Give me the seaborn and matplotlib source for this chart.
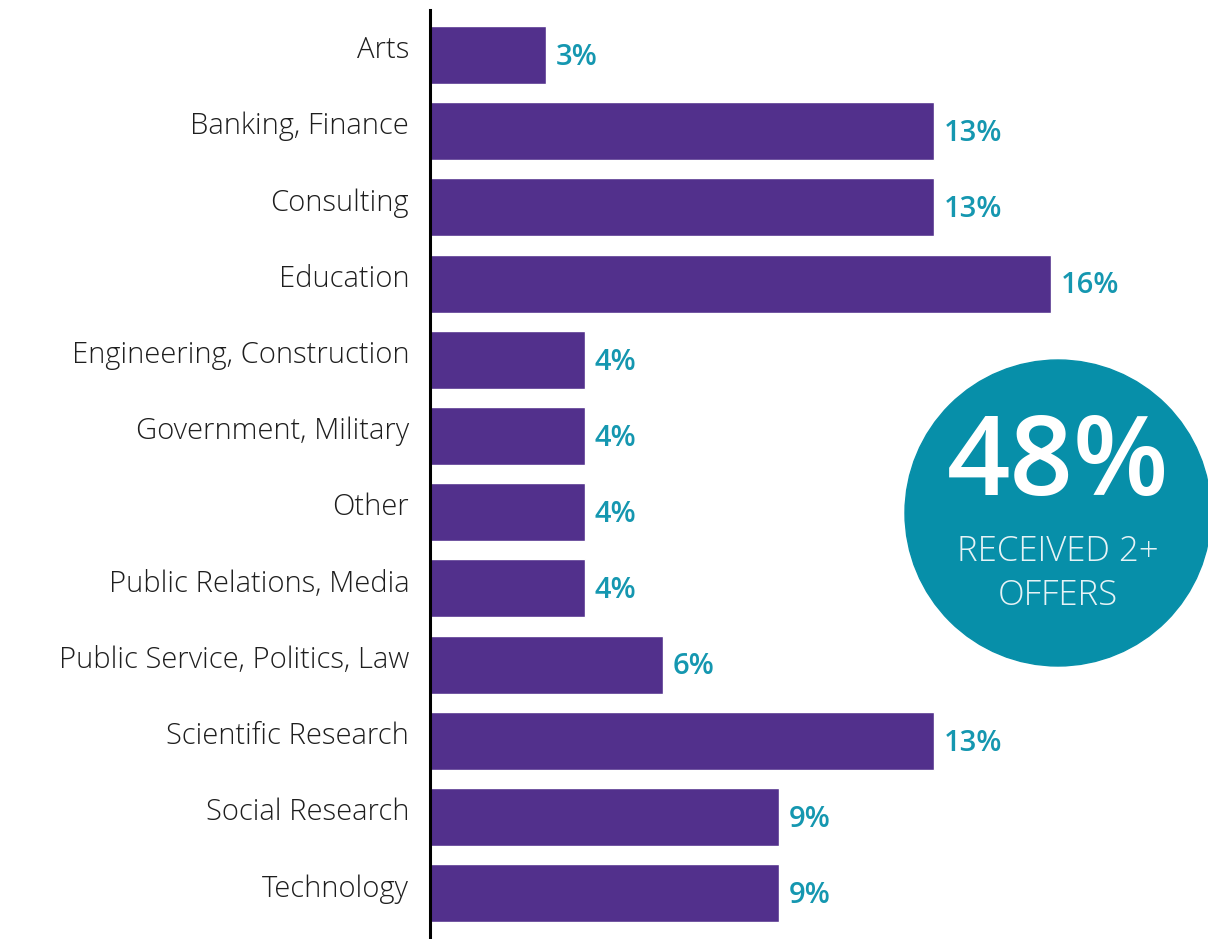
import matplotlib
matplotlib.use("Agg")
import matplotlib.pyplot as plt
from matplotlib.patches import Ellipse
from matplotlib.transforms import ScaledTranslation
import pandas as pd
import seaborn as sns

# ----- data -----
industries = [
    "Arts",
    "Banking, Finance",
    "Consulting",
    "Education",
    "Engineering, Construction",
    "Government, Military",
    "Other",
    "Public Relations, Media",
    "Public Service, Politics, Law",
    "Scientific Research",
    "Social Research",
    "Technology",
]
shares = [3, 13, 13, 16, 4, 4, 4, 4, 6, 13, 9, 9]
highlight_value = "48%"
highlight_text = ["RECEIVED 2+", "OFFERS"]

BAR_COLOR = "#52308c"
TEAL = "#078fa9"
LABEL_TEAL = "#1597b0"

sns.set_theme(style="white")
plt.rcParams["font.family"] = ["Open Sans", "DejaVu Sans"]

df = pd.DataFrame({"industry": industries, "share": shares})

W, H = 1208, 939
fig = plt.figure(figsize=(W / 100, H / 100), dpi=100)
ax = fig.add_axes([430 / W, 0, 1 - 430 / W, 1 - 10 / H])
ax.patch.set_visible(False)

sns.barplot(
    data=df, x="share", y="industry", orient="h",
    color=BAR_COLOR, saturation=1, width=0.76, ax=ax,
)

px_per_pct = 38.8
ax.set_xlim(0, (W - 430) / px_per_pct)
ax.set_ylim(11.6, -0.59)

for i, v in enumerate(shares):
    ax.text(v + 0.25, i + 0.03, f"{v}%", color=LABEL_TEAL, fontsize=21,
            fontweight="semibold", va="center", ha="left")

ax.set_xlabel("")
ax.set_ylabel("")
ax.set_xticks([])
ax.tick_params(axis="y", length=0, pad=15, labelsize=21, labelcolor="#1e1e1e")
shift = ScaledTranslation(0, 8 / 100, fig.dpi_scale_trans)
for lbl in ax.get_yticklabels():
    lbl.set_fontweight("light")
    lbl.set_transform(lbl.get_transform() + shift)
for side in ["top", "right", "bottom"]:
    ax.spines[side].set_visible(False)
ax.spines["left"].set_color("black")
ax.spines["left"].set_linewidth(2.2)

# ----- highlight circle -----
cx, cy, r = 1058, 513, 153
fig.add_artist(Ellipse((cx / W, 1 - cy / H), 2 * r / W, 2 * r / H,
                       transform=fig.transFigure, color=TEAL, zorder=2))
fig.text(cx / W, 1 - 467 / H, highlight_value, color="white", fontsize=80,
         fontweight="semibold", ha="center", va="center", zorder=3)
fig.text(cx / W, 1 - 552 / H, highlight_text[0], color="#e6f3f6", fontsize=25,
         fontweight="light", ha="center", va="center", zorder=3)
fig.text(cx / W, 1 - 596 / H, highlight_text[1], color="#e6f3f6", fontsize=25,
         fontweight="light", ha="center", va="center", zorder=3)

fig.savefig("out.png", dpi=100)
